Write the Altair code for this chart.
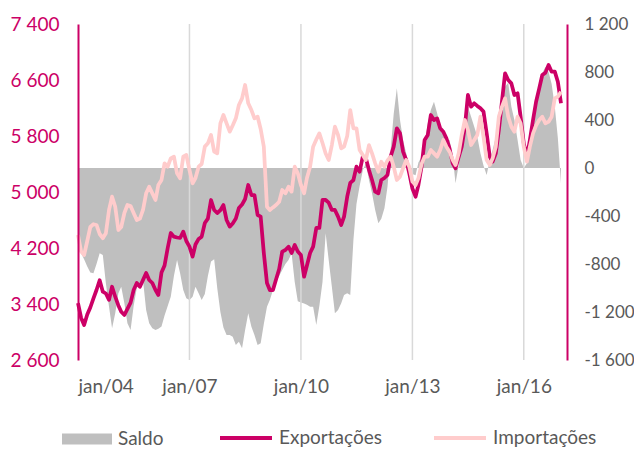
import altair as alt
import pandas as pd

# Monthly data, jan/2004 .. jan/2017
exportacoes = [
    3414, 3200, 3100, 3250, 3350, 3480, 3600, 3740, 3576, 3550, 3460, 3647,
    3504, 3380, 3290, 3243, 3330, 3420, 3600, 3700, 3647, 3743, 3843, 3743,
    3700, 3600, 3529, 3850, 3950, 4200, 4414, 4362, 4350, 4343, 4433, 4300,
    4219, 4076, 4250, 4330, 4362, 4557, 4620, 4886, 4743, 4700, 4740, 4814,
    4600, 4505, 4550, 4620, 4771, 4820, 4900, 5100, 4957, 4957, 4671, 4648,
    4129, 3700, 3600, 3600, 3750, 3900, 4148, 4171, 4219, 4129, 4243, 4150,
    4100, 3790, 3950, 4129, 4219, 4486, 4486, 4886, 4886, 4848, 4743, 4743,
    4648, 4529, 4648, 4933, 5129, 5171, 5362, 5290, 5505, 5486, 5314, 5171,
    5005, 4981, 5171, 5200, 5243, 5505, 5648, 5910, 5838, 5576, 5457, 5267,
    5050, 4933, 5100, 5362, 5743, 5814, 6100, 6029, 6052, 5910, 5862, 5767,
    5624, 5410, 5338, 5500, 5648, 5933, 6386, 6219, 6267, 6230, 6195, 6148,
    5838, 5500, 5433, 5552, 5886, 6300, 6695, 6600, 6552, 6386, 6410, 6076,
    5695, 5505, 5743, 6029, 6290, 6480, 6671, 6705, 6814, 6719, 6719, 6576,
    6267,
]
importacoes = [
    4386, 4150, 4100, 4300, 4500, 4540, 4529, 4400, 4340, 4410, 4743, 4933,
    4790, 4457, 4500, 4700, 4814, 4800, 4700, 4600, 4620, 4743, 4981, 5076,
    4981, 4886, 5100, 5171, 5410, 5362, 5481, 5505, 5267, 5195, 5505, 5529,
    5314, 5124, 5200, 5362, 5400, 5648, 5695, 5814, 5576, 5552, 5981, 6100,
    5981, 5862, 5950, 6052, 6243, 6338, 6529, 6267, 6171, 6052, 6076, 5900,
    5648, 4790, 4743, 4780, 4814, 4862, 5029, 4981, 5076, 5005, 5362, 5267,
    5100, 4981, 5200, 5362, 5648, 5750, 5838, 5700, 5550, 5457, 5671, 5933,
    5814, 5624, 5648, 5800, 6171, 5910, 5910, 5600, 5529, 5457, 5671, 5552,
    5410, 5290, 5433, 5362, 5450, 5505, 5362, 5171, 5219, 5338, 5457, 5362,
    5150, 5100, 5195, 5400, 5505, 5505, 5600, 5552, 5505, 5600, 5743, 5648,
    5576, 5457, 5386, 5552, 5814, 6029, 5886, 5671, 5743, 5814, 6076, 5790,
    5457, 5386, 5481, 5648, 6076, 6219, 6338, 6076, 5933, 5862, 6076, 5981,
    5648, 5433, 5648, 5838, 5950, 6029, 6076, 5981, 6005, 6076, 6338, 6362,
    6433,
]
saldo = [
    -683, -710, -760, -820, -870, -878, -800, -711, -725, -961, -1156, -1336,
    -1211, -1044, -989, -1128, -1294, -1350, -1150, -1000, -960, -933, -1183, -1294,
    -1336, -1350, -1340, -1320, -1230, -1150, -1072, -900, -767, -878, -1017, -1086,
    -1100, -1072, -989, -1044, -1100, -1050, -900, -780, -760, -1000, -1200, -1330,
    -1392, -1392, -1406, -1475, -1447, -1503, -1350, -1211, -1322, -1392, -1475, -1461,
    -1300, -1156, -1100, -1017, -950, -900, -850, -800, -767, -711, -950, -1110,
    -1120, -1130, -1140, -1156, -1156, -1308, -1150, -950, -544, -767, -989, -1211,
    -1183, -1128, -1058, -1044, -1058, -600, -300, -150, -20, 39, -100, -211,
    -350, -461, -422, -336, -156, 150, 450, 664, 400, 233, 122, 0,
    -50, -60, 45, 94, 200, 372, 483, 553, 456, 350, 270, 240,
    233, 94, -128, 25, 233, 400, 511, 427, 344, 261, 122, 20,
    -58, 67, 150, 261, 427, 594, 678, 710, 511, 400, 233, 67,
    0, 39, 150, 300, 511, 678, 789, 844, 800, 700, 511, 250,
    -130,
]
tick_dates = ["2004-01-01", "2007-01-01", "2010-01-01", "2013-01-01", "2016-01-01"]
left_ticks = [2600, 3400, 4200, 5000, 5800, 6600, 7400]
right_ticks = [-1600, -1200, -800, -400, 0, 400, 800, 1200]
series_names = ["Exportações", "Importações"]
saldo_name = "Saldo"

MAGENTA = "#CC0066"
PINK = "#FFCCCC"
GREY = "#BFBFBF"
TEXT = "#595959"
FONT = "Lato"

dates = pd.date_range("2004-01-01", periods=len(saldo), freq="MS")
df_saldo = pd.DataFrame({"date": dates, "v": saldo, "s": saldo_name})
df_lines = pd.concat([
    pd.DataFrame({"date": dates, "v": exportacoes, "serie": series_names[0]}),
    pd.DataFrame({"date": dates, "v": importacoes, "serie": series_names[1]}),
])
df_grid = pd.DataFrame({"date": pd.to_datetime(tick_dates[1:])})

x_scale = alt.Scale(domain=[alt.DateTime(year=2004, month=1, date=1),
                            alt.DateTime(year=2017, month=3, date=1)], nice=False)
x_axis = alt.Axis(
    values=[alt.DateTime(year=int(d[:4]), month=1, date=1) for d in tick_dates],
    labelExpr="'jan/' + timeFormat(datum.value, '%y')",
    grid=False, domain=False, ticks=False, labelPadding=17,
    labelFont=FONT, labelFontSize=19, labelColor=TEXT, title=None,
)

area = alt.Chart(df_saldo).mark_area(opacity=1).encode(
    x=alt.X("date:T", scale=x_scale, axis=x_axis),
    y=alt.Y("v:Q", stack=None,
            scale=alt.Scale(domain=[-1600, 1200], nice=False, zero=False),
            axis=alt.Axis(orient="right", values=right_ticks, grid=False, ticks=False,
                          domainColor=MAGENTA, domainWidth=2, labelPadding=17,
                          labelFont=FONT, labelFontSize=17, labelColor=TEXT, title=None,
                          zindex=2,
                          labelExpr="(datum.value < 0 ? '-' : '') + replace(format(abs(datum.value), ','), ',', ' ')")),
    fill=alt.Fill("s:N", scale=alt.Scale(domain=[saldo_name], range=[GREY]),
                  legend=alt.Legend(orient="none", legendX=-16, legendY=390, title=None,
                                    symbolType="M-1,-0.22H1V0.22H-1Z", symbolSize=2500,
                                    symbolStrokeWidth=0, labelOffset=6,
                                    labelFont=FONT, labelFontSize=19, labelColor=TEXT)),
)

grid = alt.Chart(df_grid).mark_rule(color="#D9D9D9", strokeWidth=1.5).encode(
    x=alt.X("date:T", scale=x_scale),
)

lines = alt.Chart(df_lines).mark_line(strokeWidth=3.75, strokeJoin="round").encode(
    x=alt.X("date:T", scale=x_scale),
    y=alt.Y("v:Q", scale=alt.Scale(domain=[2600, 7400], nice=False, zero=False),
            axis=alt.Axis(orient="left", values=left_ticks, grid=False, ticks=False,
                          domainColor=MAGENTA, domainWidth=2, labelPadding=19,
                          labelFont=FONT, labelFontSize=19, labelColor=MAGENTA, title=None,
                          zindex=2,
                          labelExpr="replace(format(datum.value, ','), ',', ' ')")),
    stroke=alt.Stroke("serie:N", scale=alt.Scale(domain=series_names, range=[MAGENTA, PINK]),
                      legend=alt.Legend(orient="none", legendX=140, legendY=386, title=None,
                                        direction="horizontal", symbolType="stroke",
                                        symbolSize=2704, symbolStrokeWidth=4,
                                        labelOffset=5, columnPadding=44,
                                        labelFont=FONT, labelFontSize=19, labelColor=TEXT)),
    order=alt.Order("date:T"),
)

chart = alt.layer(area, grid, lines).resolve_scale(
    y="independent", fill="independent", stroke="independent"
).properties(
    width=489, height=336,
    padding={"left": 70, "top": 16, "right": 67, "bottom": 92},
    autosize=alt.AutoSizeParams(type="none"),
).configure_view(stroke=None)

chart.save("out.html", embed_options={"renderer": "svg", "actions": False})
